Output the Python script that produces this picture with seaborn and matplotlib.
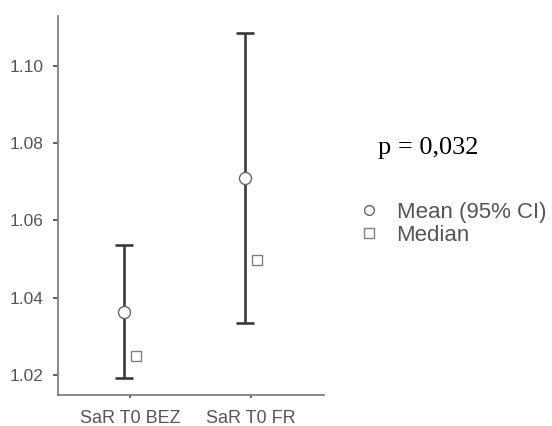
import matplotlib
matplotlib.use("Agg")
import matplotlib.pyplot as plt
from matplotlib.lines import Line2D
import seaborn as sns
import pandas as pd
import numpy as np

# Summary statistics per group
groups = ["SaR T0 BEZ", "SaR T0 FR"]
means = [1.0364, 1.0709]
ci_low = [1.0192, 1.0335]
ci_high = [1.0537, 1.1085]
medians = [1.0249, 1.0498]
p_label = "p = 0,032"
y_ticks = [1.02, 1.04, 1.06, 1.08, 1.10]

sns.set_theme(style="ticks")
plt.rcParams["font.family"] = ["Liberation Sans", "DejaVu Sans"]

fig = plt.figure(figsize=(5.52, 4.26), dpi=100)
ax = fig.add_axes([0.105, 0.0728, 0.482, 0.8896])

pos = np.arange(len(groups))
off = 0.05
df_mean = pd.DataFrame({"x": pos - off, "y": means})
df_med = pd.DataFrame({"x": pos + off, "y": medians})

# Confidence intervals
ax.errorbar(pos - off, means,
            yerr=[np.array(means) - np.array(ci_low), np.array(ci_high) - np.array(means)],
            fmt="none", ecolor="#3a3a3a", elinewidth=1.9, capsize=6.5, capthick=1.9, zorder=2)

sns.scatterplot(data=df_mean, x="x", y="y", ax=ax, marker="o", s=75,
                facecolor="white", edgecolor="#666666", linewidth=1.0, zorder=3)
sns.scatterplot(data=df_med, x="x", y="y", ax=ax, marker="s", s=55,
                facecolor="white", edgecolor="#808080", linewidth=1.0, zorder=3)

ax.set_xlim(-0.595, 1.603)
ax.set_ylim(1.0148, 1.1129)
ax.set_xticks(pos)
ax.set_xticklabels(groups)
ax.set_yticks(y_ticks)
ax.set_yticklabels([f"{t:.2f}" for t in y_ticks])
ax.set_xlabel("")
ax.set_ylabel("")

for s in ["top", "right"]:
    ax.spines[s].set_visible(False)
for s in ["left", "bottom"]:
    ax.spines[s].set_color("#808080")
    ax.spines[s].set_linewidth(1.3)
ax.tick_params(axis="y", colors="#555555", labelsize=12.5, width=1.3, length=3.6, pad=6.5)
ax.tick_params(axis="x", colors="#555555", labelsize=13, width=1.3, length=2.5, pad=8)

fig.text(0.685, 0.652, p_label, family=["Liberation Serif", "DejaVu Serif"],
         fontsize=19, color="black", va="center", ha="left")

handles = [
    Line2D([], [], linestyle="none", marker="o", markersize=7,
           markerfacecolor="white", markeredgecolor="#666666", markeredgewidth=1.0),
    Line2D([], [], linestyle="none", marker="s", markersize=6.5,
           markerfacecolor="white", markeredgecolor="#808080", markeredgewidth=1.0),
]
leg = fig.legend(handles, ["Mean (95% CI)", "Median"], loc="center left",
                 bbox_to_anchor=(0.648, 0.475), frameon=False, fontsize=16,
                 handlelength=1.0, handletextpad=0.75, labelspacing=0.1,
                 borderpad=0, borderaxespad=0)
for t in leg.get_texts():
    t.set_color("#555555")

fig.savefig("out.png", dpi=100)
